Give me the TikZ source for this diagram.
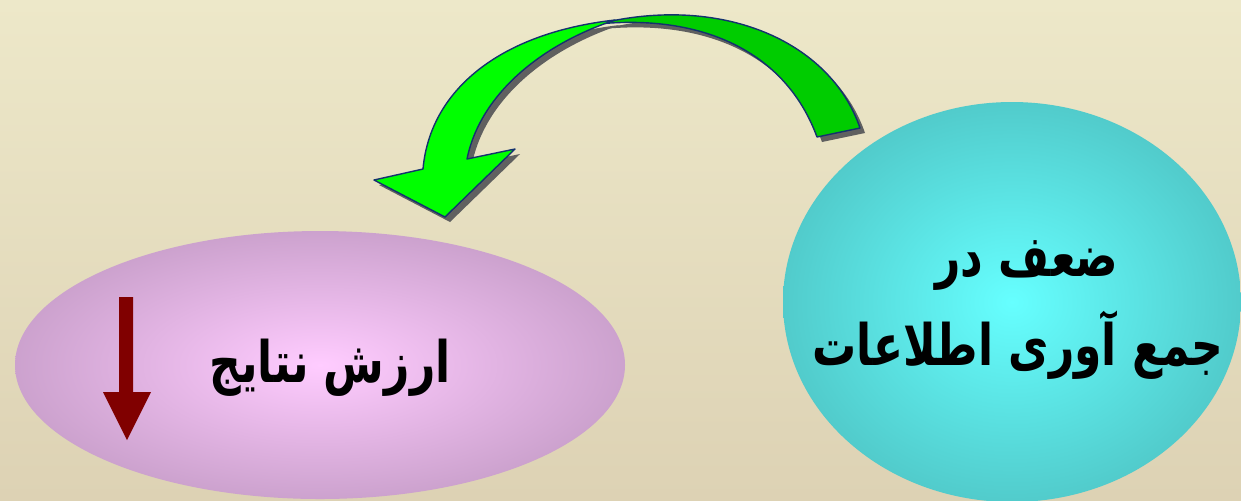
\documentclass[tikz,border=0pt]{standalone}
\usepackage{fontspec}
\usepackage{graphicx}
\newfontfamily\arabicfont[Script=Arabic]{DejaVu Sans}
\TeXXeTstate=1
\usetikzlibrary{shapes.geometric}
\definecolor{bgtop}{RGB}{237,232,201}
\definecolor{bgbot}{RGB}{221,210,180}
\definecolor{purpC}{RGB}{255,204,255}
\definecolor{purpE}{RGB}{196,155,198}
\definecolor{cyanC}{RGB}{102,255,255}
\definecolor{cyanE}{RGB}{78,195,195}
\definecolor{gbright}{RGB}{0,255,0}
\definecolor{gdark}{RGB}{0,204,0}
\definecolor{navy}{RGB}{20,50,110}
\definecolor{shad}{RGB}{96,96,96}
\definecolor{darkred}{RGB}{128,0,0}
\pgfdeclareradialshading{purpshade}{\pgfpoint{0bp}{0bp}}{color(0bp)=(purpC); color(29bp)=(purpE); color(50bp)=(purpE)}
\pgfdeclareradialshading{cyanshade}{\pgfpoint{0bp}{0bp}}{color(0bp)=(cyanC); color(29bp)=(cyanE); color(50bp)=(cyanE)}
\newcommand{\tallR}[1]{\scalebox{1}[1.3]{\beginR #1\endR}}
\tikzset{
  blob/.style={ellipse, inner sep=0pt, shade},
  lbl/.style={font=\arabicfont\bfseries\fontsize{22}{26}\selectfont, text=black, inner sep=0pt},
  ribbon/.style={draw=navy, line width=0.7pt, line join=round},
}
\begin{document}
\begin{tikzpicture}[x=0.5pt,y=-0.5pt]
\useasboundingbox (0,0) rectangle (1241,500);
\shade[top color=bgtop, bottom color=bgbot] (0,0) rectangle (1241,500);

% ellipses
\node[blob, shading=purpshade, minimum width=305pt, minimum height=134pt] (val) at (320,365) {};
\node[blob, shading=cyanshade, minimum width=229pt, minimum height=200pt] (weak) at (1012,302) {};

% texts
\node[lbl] (valtxt) at (330,368) {\tallR{ارزش نتایج}};
\node[lbl] (weak1) at (1027,266) {\tallR{ضعف در}};
\node[lbl] (weak2) at (1018,345) {\tallR{جمع آوری اطلاعات}};

% down arrow
\fill[darkred] (119,297) -- (133,297) -- (133,392) -- (151,392) -- (127,440) -- (103,392) -- (119,392) -- cycle;

% green curved arrow: shadow
\begin{scope}[shift={(5,5)}]
\fill[shad] (860,128) .. controls (830,40) and (720,-6) .. (598,24) .. controls (700,14) and (785,50) .. (817,137) -- cycle;
\fill[shad] (615,20) .. controls (500,33) and (430,90) .. (423,169) -- (374,180) -- (445,217) -- (515,149) -- (467,159) .. controls (480,95) and (540,45) .. (615,20) -- cycle;
\end{scope}
% back part
\filldraw[ribbon, fill=gdark] (860,128) .. controls (830,40) and (720,-6) .. (598,24) .. controls (700,14) and (785,50) .. (817,137) -- cycle;
% front part
\filldraw[ribbon, fill=gbright] (615,20) .. controls (500,33) and (430,90) .. (423,169) -- (374,180) -- (445,217) -- (515,149) -- (467,159) .. controls (480,95) and (540,45) .. (615,20) -- cycle;
\end{tikzpicture}
\end{document}
